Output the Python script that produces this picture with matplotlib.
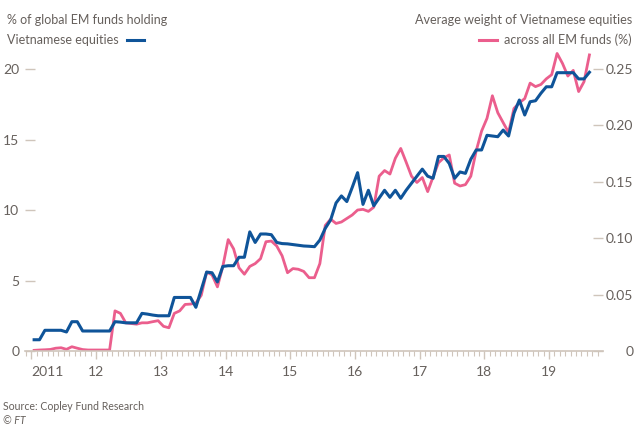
import numpy as np
import matplotlib
matplotlib.use("Agg")
import matplotlib.pyplot as plt
from matplotlib.ticker import MultipleLocator, FixedLocator

plt.rcParams['font.family'] = ['Lato', 'DejaVu Sans']

# monthly readings, Jan 2011 .. Aug 2019
start_year = 2011
# % of global EM funds holding Vietnamese equities (left axis)
pct_holding = [
    0.8, 0.8, 1.47, 1.47, 1.47, 1.47, 1.35, 2.08, 2.08, 1.42,
    1.42, 1.42, 1.42, 1.42, 1.42, 2.08, 2.05, 2.0, 2.0, 2.0,
    2.67, 2.62, 2.55, 2.5, 2.5, 2.5, 3.8, 3.8, 3.8, 3.8,
    3.1, 4.35, 5.6, 5.55, 4.9, 6.0, 6.05, 6.05, 6.65, 6.65,
    8.45, 7.7, 8.3, 8.3, 8.25, 7.7, 7.62, 7.6, 7.55, 7.5,
    7.45, 7.43, 7.4, 7.87, 8.7, 9.3, 10.5, 11.0, 10.6, 11.6,
    12.65, 10.4, 11.4, 10.3, 10.85, 11.4, 10.9, 11.4, 10.83, 11.4,
    11.9, 12.4, 12.9, 12.4, 12.25, 13.8, 13.8, 13.3, 12.25, 12.7,
    12.6, 13.6, 14.26, 14.26, 15.3, 15.25, 15.2, 15.67, 15.25, 16.86,
    17.8, 16.74, 17.68, 17.75, 18.28, 18.74, 18.74, 19.74, 19.74, 19.74,
    19.74, 19.3, 19.3, 19.77,
]
# average weight of Vietnamese equities across all EM funds, % (right axis)
avg_weight = [
    0.0006, 0.0009, 0.0011, 0.0014, 0.0025, 0.0029, 0.0015, 0.0038, 0.0025, 0.0013,
    0.0009, 0.0009, 0.0009, 0.0009, 0.0009, 0.0356, 0.0334, 0.025, 0.0244, 0.0238,
    0.025, 0.025, 0.026, 0.0269, 0.0219, 0.0206, 0.0334, 0.0356, 0.0413, 0.0416,
    0.0425, 0.0494, 0.07, 0.0675, 0.0569, 0.075, 0.0988, 0.0906, 0.0738, 0.0681,
    0.075, 0.0775, 0.0819, 0.0969, 0.0975, 0.0931, 0.0844, 0.0694, 0.0731, 0.0725,
    0.0706, 0.065, 0.065, 0.0775, 0.1113, 0.1169, 0.1131, 0.1144, 0.1175, 0.1206,
    0.125, 0.1256, 0.1238, 0.1275, 0.155, 0.16, 0.1569, 0.1709, 0.1796, 0.1675,
    0.155, 0.1494, 0.1538, 0.1413, 0.1544, 0.1669, 0.1713, 0.1738, 0.1488, 0.1463,
    0.1475, 0.155, 0.1775, 0.195, 0.2063, 0.2263, 0.2113, 0.2025, 0.1938, 0.215,
    0.22, 0.2238, 0.2375, 0.2344, 0.2363, 0.2413, 0.245, 0.2638, 0.255, 0.2438,
    0.2488, 0.23, 0.2388, 0.2625,
]
year_labels = ["2011", "12", "13", "14", "15", "16", "17", "18", "19"]
left_ticks = [0, 5, 10, 15, 20]
right_ticks = [0, 0.05, 0.10, 0.15, 0.20, 0.25]
right_labels = ["0", "0.05", "0.10", "0.15", "0.20", "0.25"]

blue = "#0f5499"
pink = "#eb5e8d"
txt = "#66605c"
axcol = "#cfc5bb"

x = start_year + (np.arange(len(pct_holding)) + 0.5) / 12

fig = plt.figure(figsize=(6.4, 4.26), dpi=100)
ax = fig.add_axes([0.039, 0.176, 0.903, 0.705])
ax2 = ax.twinx()

ax2.plot(x, avg_weight, color=pink, lw=2)
ax.plot(x, pct_holding, color=blue, lw=2.2)
ax.set_zorder(ax2.get_zorder() + 1)
ax.patch.set_visible(False)

ymax = 21.3
ax.set_ylim(0, ymax)
ax2.set_ylim(0, ymax * 0.0125)
ax.set_xlim(2010.9, 2019.833)

for a in (ax, ax2):
    for s in a.spines.values():
        s.set_visible(False)
ax.spines['bottom'].set_visible(True)
ax.spines['bottom'].set_color(axcol)
ax.spines['bottom'].set_linewidth(1.2)

ax.set_yticks(left_ticks)
ax.set_yticklabels([str(t) for t in left_ticks])
ax.tick_params(axis='y', direction='in', length=7, width=1, color=axcol,
               labelcolor=txt, labelsize=10, pad=4)

ax2.yaxis.set_major_locator(FixedLocator(right_ticks))
ax2.set_yticklabels(right_labels)
ax2.tick_params(axis='y', direction='in', length=7, width=1, color=axcol,
                labelcolor=txt, labelsize=10, pad=22)
for lab in ax2.get_yticklabels():
    lab.set_horizontalalignment('right')

ax.set_xticks(range(2011, 2020))
ax.set_xticklabels(year_labels)
ax.xaxis.set_minor_locator(MultipleLocator(1 / 12))
ax.tick_params(axis='x', which='major', direction='out', length=6, width=1,
               color=axcol, labelcolor=txt, labelsize=10, pad=5)
ax.tick_params(axis='x', which='minor', direction='out', length=3.5, width=0.8,
               color=axcol)
ax.get_xticklabels()[0].set_horizontalalignment('left')

# legend-style headers
fig.text(7 / 640, 1 - 20 / 426, "% of global EM funds holding", color=txt,
         fontsize=9, va='center', ha='left')
fig.text(7 / 640, 1 - 40 / 426, "Vietnamese equities", color=txt,
         fontsize=9, va='center', ha='left')
fig.add_artist(plt.Line2D([127 / 640, 144 / 640], [1 - 40 / 426] * 2,
                          color=blue, lw=2.2, transform=fig.transFigure))
fig.text(632 / 640, 1 - 20 / 426, "Average weight of Vietnamese equities",
         color=txt, fontsize=9.1, va='center', ha='right')
fig.text(632 / 640, 1 - 40 / 426, "across all EM funds (%)", color=txt,
         fontsize=9.1, va='center', ha='right')
fig.add_artist(plt.Line2D([479 / 640, 497 / 640], [1 - 40 / 426] * 2,
                          color=pink, lw=2.2, transform=fig.transFigure))

fig.text(3 / 640, 1 - 406 / 426, "Source: Copley Fund Research", color=txt,
         fontsize=7.6, va='center', ha='left')
fig.text(3 / 640, 1 - 421 / 426, "© FT", color=txt, fontsize=7.6,
         style='italic', va='center', ha='left')

fig.savefig("out.png", dpi=100, facecolor="white")
